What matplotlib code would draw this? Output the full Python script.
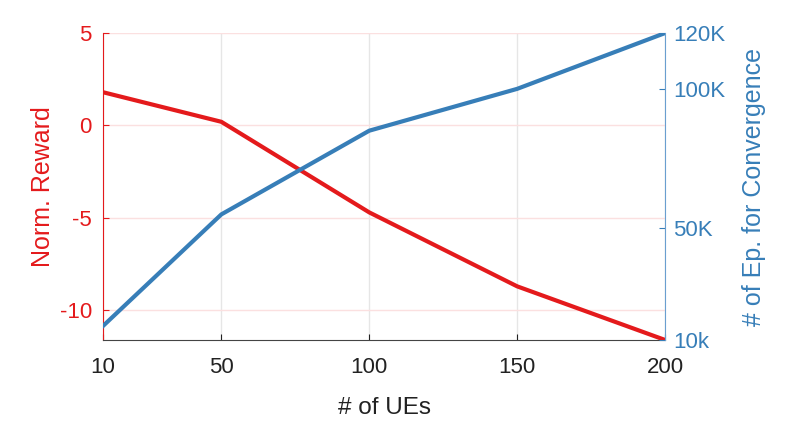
import matplotlib
matplotlib.use("Agg")
import matplotlib.pyplot as plt

plt.rcParams['font.family'] = ['Liberation Sans', 'DejaVu Sans']
plt.rcParams['axes.unicode_minus'] = False

ues = [10, 50, 100, 150, 200]
reward = [1.8, 0.2, -4.7, -8.7, -11.6]
episodes = [15, 55, 85, 100, 120]  # thousands

right_ticks = [10, 50, 100, 120]
right_labels = ['10k', '50K', '100K', '120K']

red = '#E41A1C'
blue = '#377EB8'

fig = plt.figure(figsize=(7.89, 4.29), dpi=100)
ax = fig.add_axes([0.1305, 0.2075, 0.7125, 0.7155])
ax2 = ax.twinx()

ax.plot(ues, reward, color=red, lw=3, zorder=3)
ax2.plot(ues, episodes, color=blue, lw=3, zorder=3)

ax.set_xlim(10, 200)
ax.set_ylim(-11.6, 5)
ax2.set_ylim(10, 120)
ax.set_xticks(ues)
ax.set_yticks([5, 0, -5, -10])
ax2.set_yticks(right_ticks)
ax2.set_yticklabels(right_labels)

ax.xaxis.grid(True, color='#e6e6e6', lw=1)
ax.yaxis.grid(True, color='#fbe0e0', lw=1)
ax.set_axisbelow(True)

for a in (ax, ax2):
    a.spines['top'].set_visible(False)
ax.spines['right'].set_visible(False)
ax2.spines['left'].set_visible(False)
ax2.spines['bottom'].set_visible(False)
ax.spines['left'].set_color(red)
ax2.spines['right'].set_color('#6a9fd0')
ax.spines['bottom'].set_color('#444444')

ax.tick_params(axis='x', direction='in', length=4, labelsize=16, colors='#222222', pad=12)
ax.tick_params(axis='y', direction='in', length=4, labelsize=16, colors=red, pad=8)
ax2.tick_params(axis='y', direction='in', length=4, labelsize=16, colors=blue, pad=6)

ax.set_xlabel('# of UEs', fontsize=17.5, color='#222222', labelpad=14)
ax.set_ylabel('Norm. Reward', fontsize=18, color=red, labelpad=3)
ax2.set_ylabel('# of Ep. for Convergence', fontsize=18, color=blue, labelpad=12)

fig.savefig('out.png', dpi=100)
